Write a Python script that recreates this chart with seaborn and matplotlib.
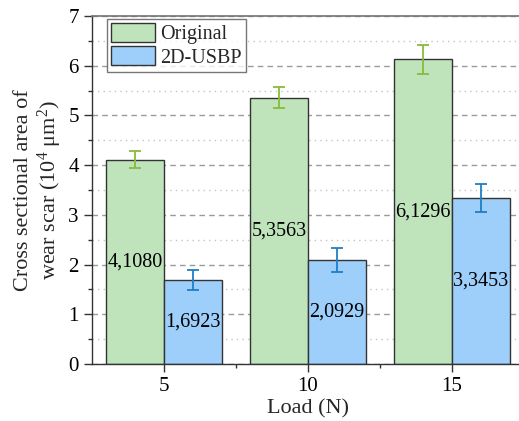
import matplotlib
matplotlib.use("Agg")
import matplotlib.pyplot as plt
from matplotlib.ticker import MultipleLocator, FixedLocator
import pandas as pd
import seaborn as sns

# Data
loads = ["5", "10", "15"]
original = [4.1080, 5.3563, 6.1296]
usbp = [1.6923, 2.0929, 3.3453]
original_err = [0.17, 0.21, 0.29]
usbp_err = [0.20, 0.25, 0.28]
series = ["Original", "2D-USBP"]

df = pd.DataFrame({
    "Load": loads * 2,
    "Area": original + usbp,
    "Series": [series[0]] * 3 + [series[1]] * 3,
})

sns.set_theme(style="white")
SERIF = ["Liberation Serif", "DejaVu Serif"]
plt.rcParams["font.family"] = SERIF
plt.rcParams["mathtext.fontset"] = "custom"
plt.rcParams["mathtext.rm"] = "Liberation Serif"
plt.rcParams["mathtext.it"] = "Liberation Serif:italic"

fig = plt.figure(figsize=(5.19, 4.21), dpi=100)
ax = fig.add_axes([0.1773, 0.1354, 0.8323, 0.8266])

fills = {"Original": "#bfe4bc", "2D-USBP": "#9dcffa"}
err_colors = ["#86bc3c", "#1f7fc4"]

sns.barplot(data=df, x="Load", y="Area", hue="Series", order=loads,
            hue_order=series, palette=fills, edgecolor="#333333",
            linewidth=1.0, saturation=1, errorbar=None, ax=ax, zorder=2)

# Error bars and value labels
for cont, errs, vals, ec in zip(ax.containers, [original_err, usbp_err],
                                [original, usbp], err_colors):
    xs = [p.get_x() + p.get_width() / 2 for p in cont.patches]
    ax.errorbar(xs, vals, yerr=errs, fmt="none", ecolor=ec, elinewidth=1.3,
                capsize=4.5, capthick=1.3, zorder=3)
    ax.bar_label(cont, labels=[f"{v:.4f}".replace(".", ",") for v in vals],
                 label_type="center", fontsize=14.5, color="black",
                 fontfamily=SERIF)

ax.set_xlim(-0.5, 2.5)
ax.set_ylim(0, 7)
ax.yaxis.set_major_locator(MultipleLocator(1))
ax.yaxis.set_minor_locator(MultipleLocator(0.5))
ax.xaxis.set_minor_locator(FixedLocator([0.5, 1.5]))

ax.set_axisbelow(True)
ax.grid(which="major", axis="y", linestyle=(0, (4, 3)), color="#9a9a9a",
        linewidth=1.0)
ax.grid(which="minor", axis="y", linestyle=(0, (1, 3)), color="#c4c4c4",
        linewidth=1.0)

ax.tick_params(axis="both", which="major", direction="out", length=6,
               width=1, labelsize=15, color="#333333", labelcolor="black",
               bottom=True, left=True)
ax.tick_params(axis="both", which="minor", direction="out", length=3,
               width=1, color="#333333", bottom=True, left=True)
for lbl in ax.get_xticklabels() + ax.get_yticklabels():
    lbl.set_fontfamily(SERIF)

for side in ["left", "bottom"]:
    ax.spines[side].set_color("#333333")
    ax.spines[side].set_linewidth(1.0)
ax.spines["top"].set_color("#777777")
ax.spines["right"].set_visible(False)

ax.set_xlabel("Load (N)", fontsize=16, labelpad=2, fontfamily=SERIF)
ax.set_ylabel("Cross sectional area of\nwear scar (10$^{4}$ μm$^{2}$)",
              fontsize=16, labelpad=3, linespacing=1.15, fontfamily=SERIF)

leg = ax.legend(loc="upper left", bbox_to_anchor=(0.035, 0.991),
                borderaxespad=0, frameon=True, fancybox=False,
                edgecolor="#555555", prop={"family": SERIF, "size": 14.5},
                handlelength=2.2, handleheight=1.05, handletextpad=0.25,
                labelspacing=0.1, borderpad=0.2)
leg.get_frame().set_linewidth(1.0)

fig.savefig("out.png", dpi=100)
